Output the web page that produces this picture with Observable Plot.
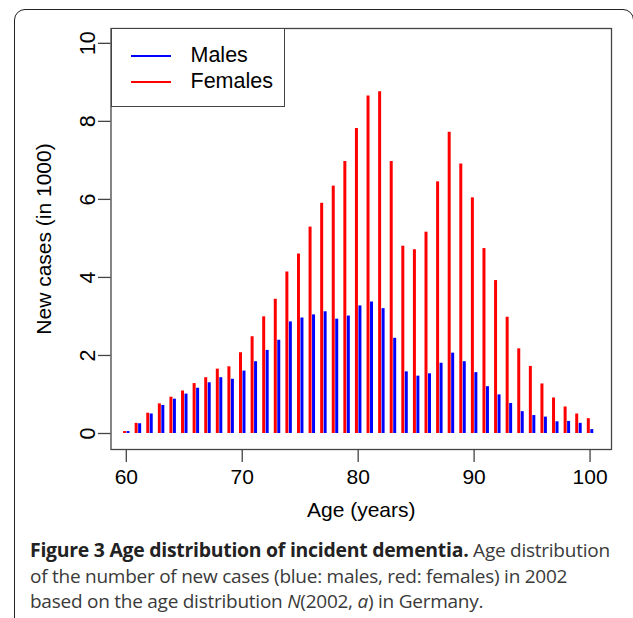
<!DOCTYPE html>
<html>
<head>
<meta charset="utf-8">
<script src="https://cdn.jsdelivr.net/npm/d3@7"></script>
<script src="https://cdn.jsdelivr.net/npm/@observablehq/plot@0.6"></script>
<style>
  html, body { margin: 0; padding: 0; background: #fff; width: 633px; height: 618px; overflow: hidden; }
  #wrap { position: relative; width: 633px; height: 618px; overflow: hidden; }
  #frame { position: absolute; left: 14px; top: 9px; width: 620px; height: 700px; border: 1.6px solid #222; border-radius: 11px; box-sizing: border-box; }
  #chart { position: absolute; left: 0; top: 0; }
  #legend { position: absolute; left: 110.5px; top: 28px; width: 174.5px; height: 79px; border: 1.3px solid #444; box-sizing: border-box; background: #fff; font-family: "Liberation Sans", Arial, sans-serif; font-size: 21.5px; color: #000; }
  .li { position: absolute; left: 0; height: 26px; }
  .li .sw { position: absolute; left: 19px; width: 40px; height: 2px; top: 12px; }
  .li span { position: absolute; left: 79px; top: 0; line-height: 24px; white-space: nowrap; }
  #caption { position: absolute; left: 30px; top: 537px; width: 620px; font-family: "Open Sans", sans-serif; font-size: 19px; line-height: 25.5px; color: #3a3a3a; letter-spacing: -0.25px; white-space: nowrap; }
  #caption b { font-weight: 700; color: #222; font-size: 19.4px; letter-spacing: -0.25px; }
</style>
</head>
<body>
<div id="wrap">
  <div id="frame"></div>
  <div id="chart"></div>
  <div id="legend"></div>
  <div id="caption"><b>Figure 3 Age distribution of incident dementia.</b> Age distribution<br>of the number of new cases (blue: males, red: females) in 2002<br>based on the age distribution <i>N</i>(2002, <i>a</i>) in Germany.</div>
</div>
<script>
const ages = [60,61,62,63,64,65,66,67,68,69,70,71,72,73,74,75,76,77,78,79,80,81,82,83,84,85,86,87,88,89,90,91,92,93,94,95,96,97,98,99,100];
const males = [0.05,0.25,0.50,0.72,0.88,1.01,1.16,1.30,1.43,1.39,
               1.60,1.84,2.13,2.39,2.86,2.96,3.04,3.12,2.93,3.01,
               3.27,3.37,3.20,2.44,1.58,1.47,1.53,1.80,2.06,1.84,
               1.56,1.20,0.99,0.77,0.56,0.46,0.42,0.30,0.31,0.26,0.10];
const females = [0.05,0.26,0.52,0.76,0.93,1.09,1.28,1.43,1.65,1.71,
                 2.07,2.48,2.99,3.44,4.14,4.60,5.29,5.90,6.34,6.97,
                 7.82,8.65,8.76,6.97,4.80,4.71,5.16,6.45,7.72,6.91,
                 6.04,4.74,3.92,2.98,2.17,1.72,1.27,0.91,0.68,0.50,0.38];
const seriesNames = ["Males", "Females"];
const seriesColors = ["#0000ff", "#ff0000"];
const xTicks = [60, 70, 80, 90, 100];
const yTicks = [0, 2, 4, 6, 8, 10];
const offset = 0.15;

const rows = [];
ages.forEach((a, i) => {
  rows.push({age: a, sex: "Females", value: females[i], pos: a - offset});
  rows.push({age: a, sex: "Males", value: males[i], pos: a + offset});
});

const H = 530;
const plot = Plot.plot({
  width: 633,
  height: H,
  marginLeft: 110.5,
  marginRight: 22,
  marginTop: 28,
  marginBottom: H - 449,
  style: {fontFamily: "'Liberation Sans', Arial, sans-serif", fontSize: "21px", color: "#000", background: "transparent", overflow: "visible"},
  x: {domain: [58.68, 101.85]},
  y: {domain: [-0.41, 10.38]},
  color: {domain: seriesNames, range: seriesColors},
  marks: [
    Plot.frame({stroke: "#444", strokeWidth: 1.3}),
    Plot.ruleX(rows, {x: "pos", y1: 0, y2: "value", stroke: "sex", strokeWidth: 3}),
    Plot.axisX({ticks: xTicks, tickSize: 13, tickPadding: 7, stroke: "#444", strokeWidth: 1.3, fill: "#000", fontSize: 21,
      label: "Age (years)", labelAnchor: "center", labelArrow: "none", labelOffset: 67}),
    Plot.axisY({ticks: yTicks, tickSize: 12.5, tickFormat: () => "", stroke: "#444", strokeWidth: 1.3,
      label: "New cases (in 1000)", labelAnchor: "center", labelArrow: "none", labelOffset: 75}),
    Plot.text(yTicks, {y: d => d, text: d => String(d), frameAnchor: "left", dx: -22.5, rotate: -90, textAnchor: "middle", lineAnchor: "middle", fontSize: 21.5, fill: "#000"})
  ]
});
document.getElementById("chart").appendChild(plot);

const leg = document.getElementById("legend");
seriesNames.forEach((n, i) => {
  const d = document.createElement("div");
  d.className = "li";
  d.style.top = (14 + i * 26) + "px";
  d.innerHTML = `<div class="sw" style="background:${seriesColors[i]}"></div><span>${n}</span>`;
  leg.appendChild(d);
});
</script>
</body>
</html>
